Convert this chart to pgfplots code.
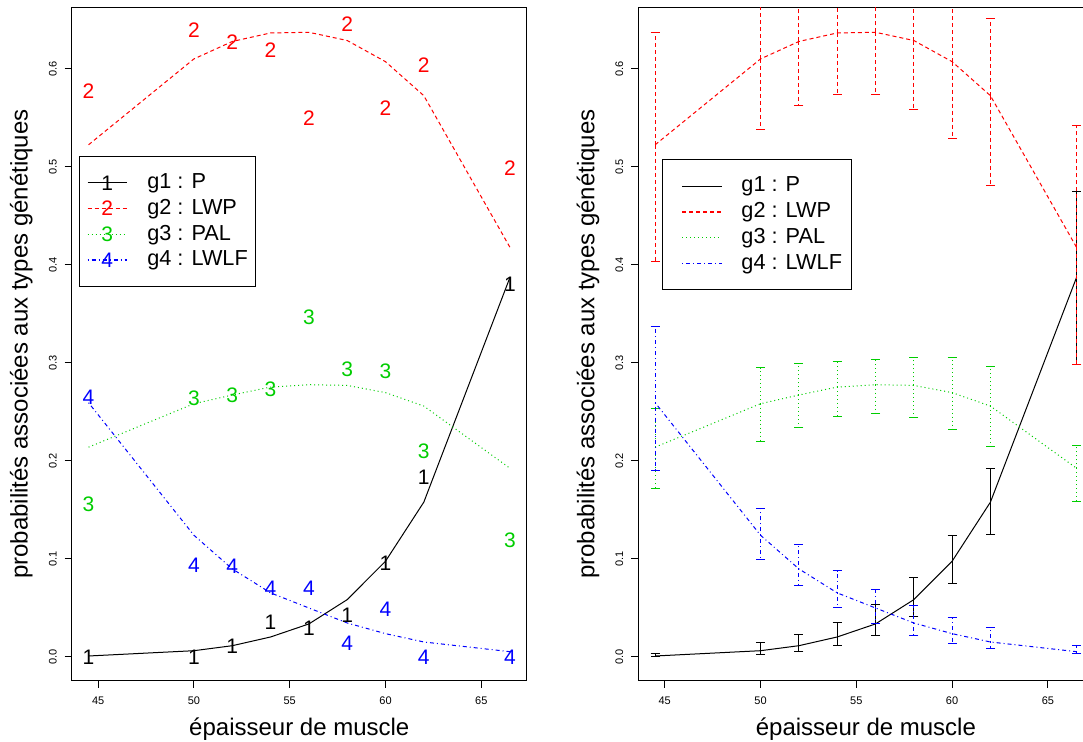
\documentclass[border=0pt]{standalone}
\usepackage{pgfplots}
\pgfplotsset{compat=1.18}
\usepackage{pgfplotstable}
\usepackage{fontspec}
\setmainfont{Liberation Sans}
\definecolor{rred}{RGB}{255,0,0}
\definecolor{rgreen}{RGB}{0,205,0}
\definecolor{rblue}{RGB}{0,0,255}

% fitted probabilities
\pgfplotstableread{
x    y1     y2     y3     y4
44.5 0.0010 0.5226 0.2141 0.2594
50   0.0064 0.6102 0.2584 0.1242
52   0.0115 0.6280 0.2673 0.0899
54   0.0204 0.6367 0.2754 0.0654
56   0.0337 0.6374 0.2778 0.0500
58   0.0585 0.6290 0.2771 0.0347
60   0.0977 0.6074 0.2697 0.0238
62   0.1580 0.5727 0.2560 0.0153
66.5 0.3875 0.4178 0.1925 0.0054
}\curves

% observed proportions
\pgfplotstableread{
x    o1     o2     o3     o4
44.5 0.000  0.577  0.1556 0.2646
50   0.000  0.640  0.2639 0.0933
52   0.011  0.627  0.2670 0.0926
54   0.035  0.619  0.2730 0.0705
56   0.0296 0.550  0.3470 0.0705
58   0.043  0.646  0.2935 0.0136
60   0.096  0.560  0.2918 0.0483
62   0.183  0.604  0.2100 0.000
66.5 0.380  0.499  0.1188 0.000
}\obs

% confidence bounds
\pgfplotstableread{
x    y1     l1     h1     y2     l2     h2     y3     l3     h3     y4     l4     h4
44.5 0.0010 0.0006 0.0034 0.5226 0.4040 0.6374 0.2141 0.1716 0.2533 0.2594 0.1903 0.3377
50   0.0064 0.0024 0.0143 0.6102 0.5377 0.6830 0.2584 0.2196 0.2952 0.1242 0.0994 0.1515
52   0.0115 0.0054 0.0225 0.6280 0.5625 0.6940 0.2673 0.2346 0.2993 0.0899 0.0728 0.1144
54   0.0204 0.0115 0.0347 0.6367 0.5744 0.6990 0.2754 0.2452 0.3013 0.0654 0.0507 0.0882
56   0.0337 0.0218 0.0534 0.6374 0.5734 0.7010 0.2778 0.2485 0.3035 0.0500 0.0340 0.0688
58   0.0585 0.0415 0.0813 0.6290 0.5591 0.6990 0.2771 0.2441 0.3060 0.0347 0.0221 0.0524
60   0.0977 0.0749 0.1242 0.6074 0.5292 0.6860 0.2697 0.2319 0.3054 0.0238 0.0136 0.0398
62   0.1580 0.1249 0.1927 0.5727 0.4815 0.6516 0.2560 0.2148 0.2960 0.0153 0.0088 0.0296
66.5 0.3875 0.2980 0.4750 0.4178 0.2980 0.5420 0.1925 0.1589 0.2158 0.0054 0.0034 0.0115
}\ci

\tikzset{
  lty2/.style={dash pattern=on 2pt off 1.5pt},
  lty3/.style={dash pattern=on 0.5pt off 1.5pt},
  lty4/.style={dash pattern=on 0.5pt off 1.5pt on 2pt off 1.5pt},
}
\newcommand{\digfont}{\fontsize{10.5}{12}\selectfont}

\pgfplotsset{
  rstyle/.style={
    scale only axis, width=227.6pt, height=336.85pt,
    xmin=43.62, xmax=67.38, ymin=-0.0245, ymax=0.6629,
    xtick={45,50,55,60,65}, ytick={0,0.1,0.2,0.3,0.4,0.5,0.6},
    tick align=outside, xtick pos=left, ytick pos=left,
    major tick length=3.5pt, tick style={black, line width=0.5pt},
    axis line style={line width=0.5pt},
    /pgf/number format/assume math mode=true,
    ticklabel style={font=\fontsize{5.5}{6}\selectfont},
    xticklabel style={anchor=base, inner sep=0pt, yshift=-8.35pt},
    yticklabel style={/pgf/number format/fixed, /pgf/number format/fixed zerofill,
      /pgf/number format/precision=1, inner sep=0pt, xshift=-4.05pt, rotate=90, anchor=base},
    xlabel={épaisseur de muscle},
    ylabel={probabilités associées aux types génétiques},
    xlabel style={at={(axis description cs:0.5,-0.081)}, anchor=base, inner sep=0pt,
      font=\fontsize{12}{14}\selectfont},
    ylabel style={at={(axis description cs:-0.0966,0.5)}, anchor=base, inner sep=0pt,
      font=\fontsize{12}{14}\selectfont},
    legend style={draw=black, line width=0.5pt, fill=white, font=\fontsize{10.85}{13}\selectfont,
      nodes={inner sep=0pt, text height=7.9pt, text depth=2.1pt},
      row sep=2.9pt, inner ysep=8.2pt, cells={anchor=west}},
  },
}

\begin{document}
\begin{tikzpicture}
% ---------------- left panel ----------------
\begin{axis}[rstyle, at={(35.85pt,30.5pt)}, anchor=south west,
  legend style={at={(rel axis cs:0.0165,0.7797)}, anchor=north west,
    inner xsep=3.6pt, column sep=10pt}]
\addplot[black, line width=0.5pt, forget plot] table[x=x,y=y1]{\curves};
\addplot[rred, line width=0.5pt, lty2, forget plot] table[x=x,y=y2]{\curves};
\addplot[rgreen, line width=0.5pt, lty3, forget plot] table[x=x,y=y3]{\curves};
\addplot[rblue, line width=0.5pt, lty4, forget plot] table[x=x,y=y4]{\curves};
\addplot[black, only marks, mark=text, text mark={1}, text mark as node=true,
  text mark style={font=\digfont, text=black, inner sep=0pt, anchor=center}, forget plot]
  table[x=x,y=o1]{\obs};
\addplot[rred, only marks, mark=text, text mark={2}, text mark as node=true,
  text mark style={font=\digfont, text=rred, inner sep=0pt, anchor=center}, forget plot]
  table[x=x,y=o2]{\obs};
\addplot[rgreen, only marks, mark=text, text mark={3}, text mark as node=true,
  text mark style={font=\digfont, text=rgreen, inner sep=0pt, anchor=center}, forget plot]
  table[x=x,y=o3]{\obs};
\addplot[rblue, only marks, mark=text, text mark={4}, text mark as node=true,
  text mark style={font=\digfont, text=rblue, inner sep=0pt, anchor=center}, forget plot]
  table[x=x,y=o4]{\obs};
\addlegendimage{legend image code/.code={
  \draw[black, draw=black, line width=0.6pt] (0pt,0pt) -- (19.5pt,0pt);
  \node[draw=none, text=black, font=\digfont, inner sep=0pt, text height=7.5pt, text depth=0pt, anchor=center] at (9.75pt,0pt) {1};}}
\addlegendentry{g1 : P}
\addlegendimage{legend image code/.code={
  \draw[rred, draw=rred, line width=0.7pt, lty2] (0pt,0pt) -- (19.5pt,0pt);
  \node[draw=none, text=rred, font=\digfont, inner sep=0pt, text height=7.5pt, text depth=0pt, anchor=center] at (9.75pt,0pt) {2};}}
\addlegendentry{g2 : LWP}
\addlegendimage{legend image code/.code={
  \draw[rgreen, draw=rgreen, line width=0.7pt, lty3] (0pt,0pt) -- (19.5pt,0pt);
  \node[draw=none, text=rgreen, font=\digfont, inner sep=0pt, text height=7.5pt, text depth=0pt, anchor=center] at (9.75pt,0pt) {3};}}
\addlegendentry{g3 : PAL}
\addlegendimage{legend image code/.code={
  \draw[rblue, draw=rblue, line width=0.7pt, lty4] (0pt,0pt) -- (19.5pt,0pt);
  \node[draw=none, text=rblue, font=\digfont, inner sep=0pt, text height=7.5pt, text depth=0pt, anchor=center] at (9.75pt,0pt) {4};}}
\addlegendentry{g4 : LWLF\hspace{1.5pt}}
\end{axis}

% ---------------- right panel ----------------
\begin{axis}[rstyle, at={(319.15pt,30.5pt)}, anchor=south west,
  legend style={at={(rel axis cs:0.0527,0.7744)}, anchor=north west,
    inner xsep=4.6pt, column sep=9.35pt}]
\addplot[black, line width=0.5pt, forget plot,
  error bars/.cd, y dir=both, y explicit,
  error bar style={draw=black, line width=0.6pt, solid},
  error mark options={rotate=90, mark size=2.3pt, draw=black, line width=0.5pt, solid}]
  table[x=x, y=y1, y error plus expr=\thisrow{h1}-\thisrow{y1}, y error minus expr=\thisrow{y1}-\thisrow{l1}]{\ci};
\addplot[rred, line width=0.5pt, lty2, forget plot,
  error bars/.cd, y dir=both, y explicit,
  error bar style={draw=rred, line width=0.6pt, lty2},
  error mark options={rotate=90, mark size=2.3pt, draw=rred, line width=0.5pt, solid}]
  table[x=x, y=y2, y error plus expr=\thisrow{h2}-\thisrow{y2}, y error minus expr=\thisrow{y2}-\thisrow{l2}]{\ci};
\addplot[rgreen, line width=0.5pt, lty3, forget plot,
  error bars/.cd, y dir=both, y explicit,
  error bar style={draw=rgreen, line width=0.6pt, lty3},
  error mark options={rotate=90, mark size=2.3pt, draw=rgreen, line width=0.5pt, solid}]
  table[x=x, y=y3, y error plus expr=\thisrow{h3}-\thisrow{y3}, y error minus expr=\thisrow{y3}-\thisrow{l3}]{\ci};
\addplot[rblue, line width=0.5pt, lty4, forget plot,
  error bars/.cd, y dir=both, y explicit,
  error bar style={draw=rblue, line width=0.6pt, lty4},
  error mark options={rotate=90, mark size=2.3pt, draw=rblue, line width=0.5pt, solid}]
  table[x=x, y=y4, y error plus expr=\thisrow{h4}-\thisrow{y4}, y error minus expr=\thisrow{y4}-\thisrow{l4}]{\ci};
\addlegendimage{legend image code/.code={\path (0pt,0pt); \draw[black, draw=black, line width=0.6pt] (4.8pt,0pt) -- (24.8pt,0pt);}}
\addlegendentry{g1 : P}
\addlegendimage{legend image code/.code={\path (0pt,0pt); \draw[rred, draw=rred, line width=0.7pt, lty2] (4.8pt,0pt) -- (24.8pt,0pt);}}
\addlegendentry{g2 : LWP}
\addlegendimage{legend image code/.code={\path (0pt,0pt); \draw[rgreen, draw=rgreen, line width=0.7pt, lty3] (4.8pt,0pt) -- (24.8pt,0pt);}}
\addlegendentry{g3 : PAL}
\addlegendimage{legend image code/.code={\path (0pt,0pt); \draw[rblue, draw=rblue, line width=0.7pt, lty4] (4.8pt,0pt) -- (24.8pt,0pt);}}
\addlegendentry{g4 : LWLF}
\end{axis}
\pgfresetboundingbox
\useasboundingbox (0pt,0pt) rectangle (541.5pt,371pt);
\end{tikzpicture}
\end{document}
